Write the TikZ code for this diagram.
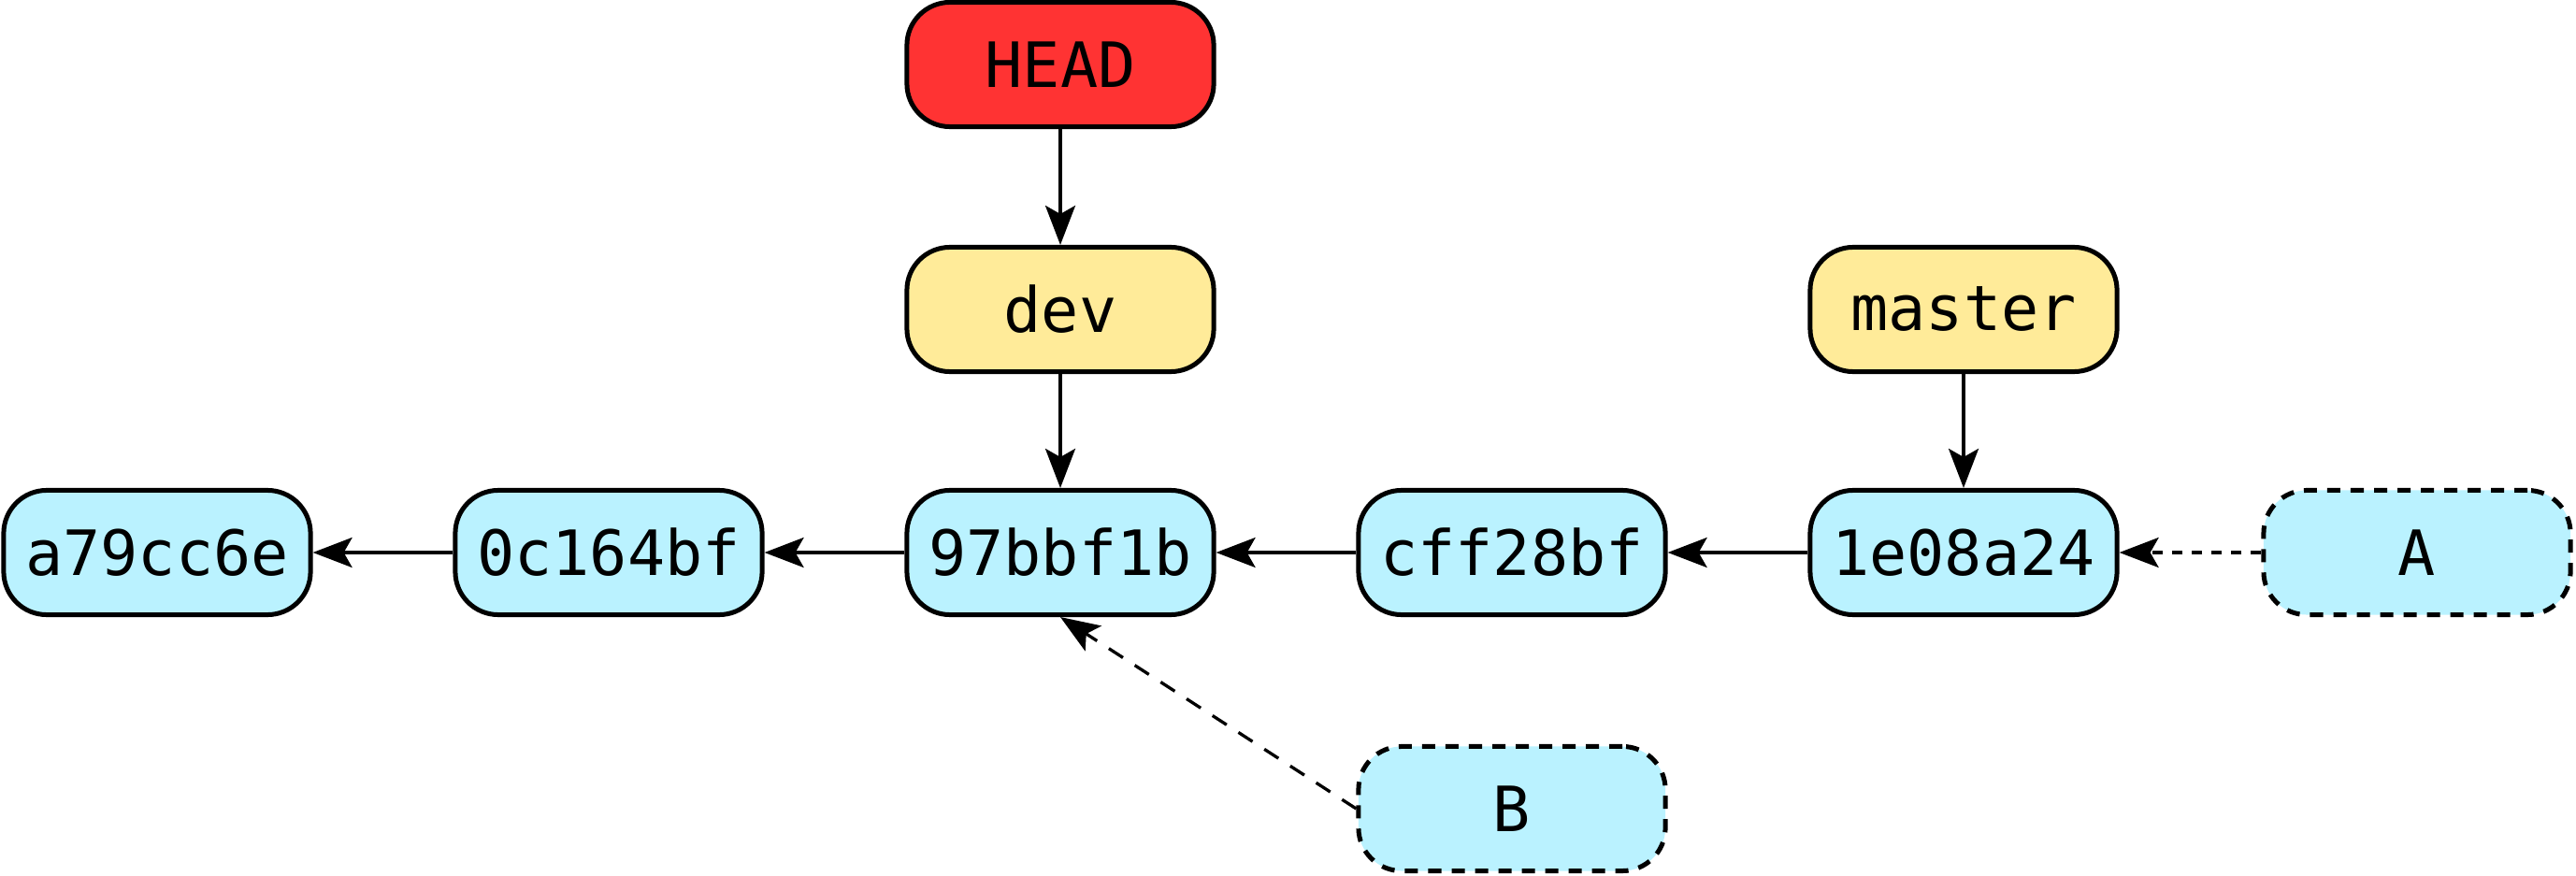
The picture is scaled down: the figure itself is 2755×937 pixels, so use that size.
\documentclass[tikz,border=0pt]{standalone}
\usepackage{fontspec}
\setmonofont{DejaVu Sans Mono}
\usetikzlibrary{arrows.meta}
\definecolor{commitblue}{RGB}{186,242,255}
\definecolor{branchyellow}{RGB}{255,235,153}
\definecolor{headred}{RGB}{255,51,51}
\tikzset{
  box/.style={draw=black, line width=0.05cm, rounded corners=0.46cm,
    minimum width=3.28cm, minimum height=1.33cm, inner sep=0pt,
    font=\ttfamily\fontsize{19pt}{22pt}\selectfont},
  commit/.style={box, fill=commitblue},
  branch/.style={box, fill=branchyellow},
  headbox/.style={box, fill=headred},
  ghost/.style={box, fill=commitblue, dash pattern=on 0.14cm off 0.11cm},
  conn/.style={line width=0.033cm, -{Stealth[length=0.42cm,width=0.32cm,inset=0.09cm]}},
  dotconn/.style={conn, dash pattern=on 0.11cm off 0.1cm},
  dashconn/.style={conn, dash pattern=on 0.18cm off 0.15cm},
}
\begin{document}
\begin{tikzpicture}[x=0.01cm,y=-0.01cm]
\useasboundingbox (0,0) rectangle (2755,937);
\node[headbox] (head) at (1134,69) {HEAD};
\node[branch] (dev) at (1134,331) {dev};
\node[branch] (master) at (2100,331) {master};
\node[commit] (c1) at (168,591) {a79cc6e};
\node[commit] (c2) at (651,591) {0c164bf};
\node[commit] (c3) at (1134,591) {97bbf1b};
\node[commit] (c4) at (1617,591) {cff28bf};
\node[commit] (c5) at (2100,591) {1e08a24};
\node[ghost] (a) at (2585,591) {A};
\node[ghost] (b) at (1617,865) {B};
\draw[conn] (head) -- (dev);
\draw[conn] (dev) -- (c3);
\draw[conn] (master) -- (c5);
\draw[conn] (c2) -- (c1);
\draw[conn] (c3) -- (c2);
\draw[conn] (c4) -- (c3);
\draw[conn] (c5) -- (c4);
\draw[dotconn] (a) -- (c5);
\draw[dashconn] (b.west) -- (c3.south);
\end{tikzpicture}
\end{document}
